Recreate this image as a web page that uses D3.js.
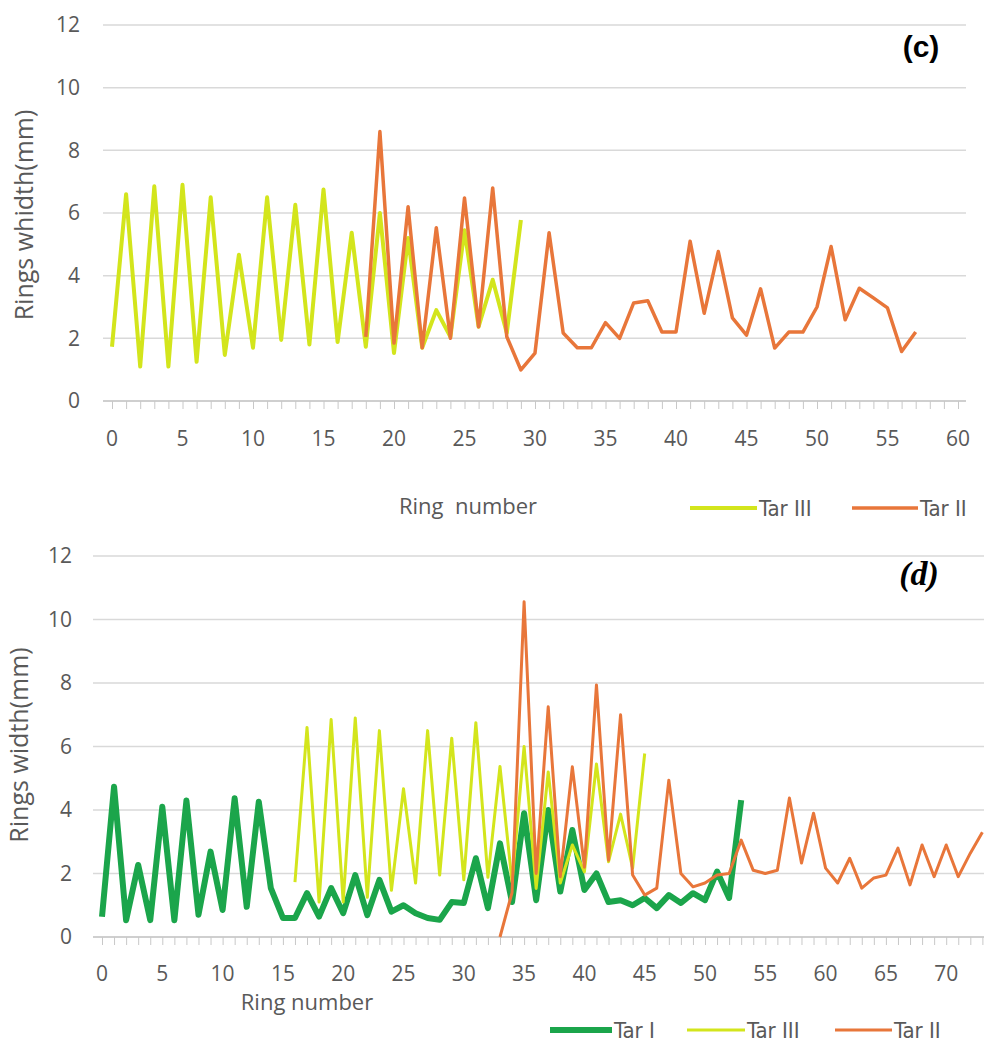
<!DOCTYPE html>
<html>
<head>
<meta charset="utf-8">
<script src="https://cdn.jsdelivr.net/npm/d3@7"></script>
<style>
  body { margin: 0; background: #fff; }
  text { font-family: 'Open Sans', sans-serif; fill: #595959; }
  .legend text { font-family: 'DejaVu Sans Condensed', 'DejaVu Sans', sans-serif; font-stretch: condensed; }
</style>
</head>
<body>
<svg id="chart" width="984" height="1044"></svg>
<script>
// ring widths (mm)
const tarIII = [1.73, 6.6, 1.1, 6.85, 1.1, 6.9, 1.25, 6.5, 1.47, 4.67, 1.7, 6.5, 1.95, 6.26, 1.8,
  6.75, 1.88, 5.37, 1.73, 6.0, 1.53, 5.2, 1.7, 2.9, 2.05, 5.45, 2.37, 3.87, 2.17, 5.78]
const tarIIc = [2.05, 8.6, 1.85, 6.2, 1.7, 5.53, 2.0, 6.48, 2.37, 6.8, 2.05, 0.99, 1.53, 5.37,
  2.17, 1.7, 1.7, 2.5, 2.0, 3.13, 3.2, 2.2, 2.2, 5.1, 2.8, 4.77, 2.65, 2.1, 3.58, 1.69, 2.2, 2.2,
  3.0, 4.93, 2.59, 3.6, 3.29, 2.97, 1.58, 2.2]
const tarI = [0.64, 4.73, 0.53, 2.27, 0.53, 4.1, 0.53, 4.3, 0.7, 2.69, 0.85, 4.37, 0.95, 4.26,
  1.54, 0.6, 0.6, 1.38, 0.64, 1.54, 0.75, 1.95, 0.69, 1.8, 0.8, 1.0, 0.75, 0.6, 0.54, 1.1, 1.07,
  2.48, 0.91, 2.95, 1.1, 3.9, 1.16, 4.0, 1.43, 3.37, 1.48, 2.0, 1.1, 1.16, 1.0, 1.23, 0.91, 1.32,
  1.07, 1.38, 1.16, 2.06, 1.23, 4.31]
const tarIId = [0.0, 1.4, 10.56, 2.0, 7.25, 1.9, 5.36, 2.2, 7.94, 2.42, 7.0, 1.95, 1.32, 1.54,
  4.94, 2.0, 1.58, 1.7, 1.95, 2.0, 3.05, 2.1, 2.0, 2.1, 4.38, 2.33, 3.9, 2.17, 1.7, 2.48, 1.54,
  1.86, 1.95, 2.8, 1.64, 2.9, 1.9, 2.9, 1.9, 2.64, 3.3]
// first ring number of each series
const startTarIIIc = 0, startTarIIc = 18
const startTarI = 0, startTarIIId = 16, startTarIId = 33
const yTicks = [0, 2, 4, 6, 8, 10, 12]

const colors = {tarI: '#1ba54b', tarIII: '#d3e51c', tarII: '#e8763a'}
const svg = d3.select('#chart')

function panel(o) {
  const x = d3.scaleLinear().domain([0, o.xMax]).range(o.xRange)
  const y = d3.scaleLinear().domain([0, 12]).range(o.yRange)
  const g = svg.append('g')

  // gridlines
  g.selectAll('line.grid')
    .data(yTicks.slice(1))
    .enter().append('line')
    .attr('x1', o.gridX[0]).attr('x2', o.gridX[1])
    .attr('y1', d => y(d)).attr('y2', d => y(d))
    .attr('stroke', '#d9d9d9').attr('stroke-width', 1.5)

  // x axis with a minor tick on every ring
  const xAxis = d3.axisBottom(x)
    .tickValues(d3.range(0, o.xMax + 1))
    .tickSize(8)
    .tickFormat('')
  const ax = g.append('g')
    .attr('transform', `translate(0,${y(0)})`)
    .call(xAxis)
  ax.select('.domain').attr('d', `M${o.gridX[0]},0H${o.gridX[1]}`).attr('stroke', '#bfbfbf').attr('stroke-width', 1.5)
  ax.selectAll('.tick line').attr('stroke', '#c8c8c8')

  g.selectAll('text.xl')
    .data(d3.range(0, o.xMax + 1, 5))
    .enter().append('text')
    .attr('x', d => x(d)).attr('y', o.xLabelY)
    .attr('text-anchor', 'middle')
    .style('font-size', '21px')
    .text(d => d)

  g.selectAll('text.yl')
    .data(yTicks)
    .enter().append('text')
    .attr('x', o.yLabelX).attr('y', d => y(d))
    .attr('dy', '0.35em')
    .attr('text-anchor', 'end')
    .style('font-size', '21px')
    .text(d => d)

  // series
  const line = d3.line()
    .x(d => x(d[0]))
    .y(d => y(d[1]))
  o.series.forEach(s => {
    g.append('path')
      .datum(s.values.map((v, i) => [s.start + i, v]))
      .attr('d', line)
      .attr('fill', 'none')
      .attr('stroke', s.color)
      .attr('stroke-width', s.width)
      .attr('stroke-linejoin', 'round')
  })

  // titles
  g.append('text')
    .attr('transform', `translate(${o.yTitle[0]},${o.yTitle[1]}) rotate(-90)`)
    .attr('text-anchor', 'middle')
    .style('font-size', '25px')
    .text(o.yTitleText)
  g.append('text')
    .attr('x', o.xTitle[0]).attr('y', o.xTitle[1])
    .attr('text-anchor', 'middle')
    .style('font-size', '22px')
    .style('white-space', 'pre')
    .text(o.xTitleText)

  // legend
  const lg = g.append('g').attr('class', 'legend')
  o.series.forEach(s => {
    lg.append('line')
      .attr('x1', s.legend[0]).attr('x2', s.legend[1])
      .attr('y1', o.legendY).attr('y2', o.legendY)
      .attr('stroke', s.color).attr('stroke-width', s.width)
    lg.append('text')
      .attr('x', s.legend[1] + 2).attr('y', o.legendY + 8)
      .style('font-size', '22px')
      .text(s.name)
  })
  return g
}

panel({
  xMax: 60, xRange: [112, 958], yRange: [401, 25], gridX: [103, 966],
  xLabelY: 446, yLabelX: 80,
  yTitle: [33, 215], yTitleText: 'Rings whidth(mm)',
  xTitle: [468, 514], xTitleText: 'Ring  number',
  legendY: 508,
  series: [
    {name: 'Tar III', values: tarIII, start: startTarIIIc, color: colors.tarIII, width: 4, legend: [690, 757]},
    {name: 'Tar II', values: tarIIc, start: startTarIIc, color: colors.tarII, width: 3.5, legend: [852, 918]}
  ]
}).append('text')
  .attr('x', 921).attr('y', 57)
  .attr('text-anchor', 'middle')
  .style('font-family', "'Liberation Sans', sans-serif")
  .style('font-weight', 'bold').style('font-size', '30px').style('fill', '#000')
  .text('(c)')

panel({
  xMax: 73, xRange: [102, 102 + 73 * 12.06], yRange: [937, 556], gridX: [93, 984],
  xLabelY: 981, yLabelX: 72,
  yTitle: [28, 745], yTitleText: 'Rings width(mm)',
  xTitle: [307, 1010], xTitleText: 'Ring number',
  legendY: 1030,
  series: [
    {name: 'Tar I', values: tarI, start: startTarI, color: colors.tarI, width: 6, legend: [550, 612]},
    {name: 'Tar III', values: tarIII, start: startTarIIId, color: colors.tarIII, width: 3, legend: [687, 745]},
    {name: 'Tar II', values: tarIId, start: startTarIId, color: colors.tarII, width: 3, legend: [835, 892]}
  ]
}).append('text')
  .attr('x', 919).attr('y', 585)
  .attr('text-anchor', 'middle')
  .style('font-family', "'Liberation Serif', serif")
  .style('font-weight', 'bold').style('font-style', 'italic').style('font-size', '34px').style('fill', '#000')
  .text('(d)')
</script>
</body>
</html>
